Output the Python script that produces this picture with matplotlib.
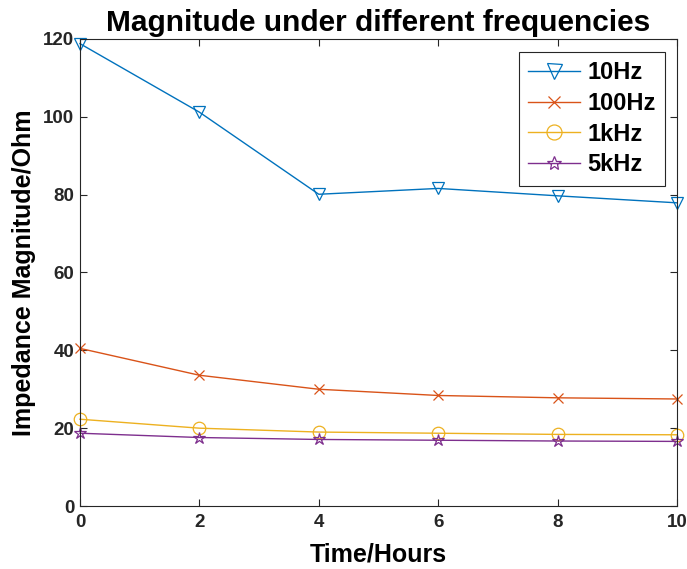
import matplotlib
matplotlib.use("Agg")
import matplotlib.pyplot as plt

plt.rcParams['font.family'] = ['Liberation Sans', 'DejaVu Sans']

hours = [0, 2, 4, 6, 8, 10]
mag_10hz = [118.8, 101.2, 80.1, 81.6, 79.7, 77.9]
mag_100hz = [40.5, 33.6, 30.0, 28.4, 27.8, 27.5]
mag_1khz = [22.3, 20.0, 19.0, 18.7, 18.4, 18.3]
mag_5khz = [18.7, 17.6, 17.1, 16.9, 16.7, 16.6]
labels = ['10Hz', '100Hz', '1kHz', '5kHz']
colors = ['#0072BD', '#D95319', '#EDB120', '#7E2F8E']
markers = ['v', 'x', 'o', '*']

fig = plt.figure(figsize=(6.87, 5.69), dpi=100)
ax = fig.add_axes([0.1164, 0.1107, 0.8690, 0.8208])

series = [mag_10hz, mag_100hz, mag_1khz, mag_5khz]
for s, lab, c, m in zip(series, labels, colors, markers):
    ax.plot(hours, s, color=c, marker=m, markersize=9 if m != 'x' else 7,
            markerfacecolor='none', markeredgecolor=c, markeredgewidth=0.9,
            linewidth=1.0, label=lab, clip_on=False)

ax.set_xlim(0, 10)
ax.set_ylim(0, 120)
ax.set_xticks([0, 2, 4, 6, 8, 10])
ax.set_yticks([0, 20, 40, 60, 80, 100, 120])
ax.tick_params(direction='in', length=5, width=0.8, labelsize=13.5, colors='0.15',
               top=True, right=True)
ax.tick_params(axis='x', pad=6)
ax.tick_params(axis='y', pad=4)
for lab in ax.get_xticklabels() + ax.get_yticklabels():
    lab.set_fontweight('bold')
for sp in ax.spines.values():
    sp.set_color('0.15')
    sp.set_linewidth(0.8)

ax.set_xlabel('Time/Hours', fontsize=18, fontweight='bold', labelpad=8)
ax.set_ylabel('Impedance Magnitude/Ohm', fontsize=18, fontweight='bold', labelpad=5)
ax.set_title('Magnitude under different frequencies', fontsize=21.5, fontweight='bold', pad=6)

leg = ax.legend(loc='upper right', bbox_to_anchor=(0.98, 0.972), borderaxespad=0,
                prop={'weight': 'bold', 'size': 17},
                fancybox=False, edgecolor='0.15', framealpha=1, handlelength=2.2,
                borderpad=0.4, labelspacing=0.32, handletextpad=0.3, markerscale=1.2)
leg.get_frame().set_linewidth(0.8)

fig.savefig('out.png', dpi=100)
